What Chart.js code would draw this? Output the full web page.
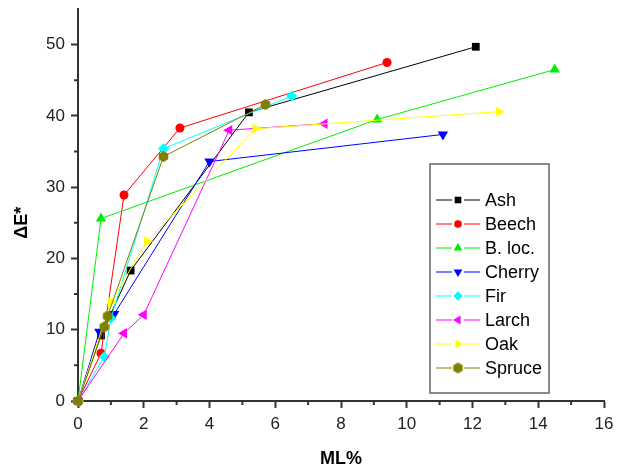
<!DOCTYPE html>
<html>
<head>
<meta charset="utf-8">
<script src="https://cdn.jsdelivr.net/npm/chart.js@4.4.0/dist/chart.umd.min.js"></script>
<style>
  html, body { margin: 0; padding: 0; background: #fff; }
</style>
</head>
<body>
<canvas id="c" width="618" height="473"></canvas>
<script>
// ML% (x) and ΔE* (y) for each wood species
const mlAsh = [0, 0.7, 1.6, 5.2, 12.1];
const deAsh = [0, 9.2, 18.3, 40.5, 49.7];
const mlBeech = [0, 0.7, 1.4, 3.1, 9.4];
const deBeech = [0, 6.7, 28.9, 38.3, 47.5];
const mlBloc = [0, 0.7, 9.1, 14.5];
const deBloc = [0, 25.6, 39.5, 46.5];
const mlCherry = [0, 0.65, 1.1, 4.0, 11.1];
const deCherry = [0, 9.7, 12.2, 33.6, 37.4];
const mlFir = [0, 0.8, 1.0, 2.6, 6.5];
const deFir = [0, 6.2, 11.6, 35.4, 42.8];
const mlLarch = [0, 1.4, 2.0, 4.6, 7.5];
const deLarch = [0, 9.5, 12.1, 38.0, 38.9];
const mlOak = [0, 1.0, 2.1, 5.4, 12.8];
const deOak = [0, 13.9, 22.4, 38.2, 40.6];
const mlSpruce = [0, 0.8, 0.9, 2.6, 5.7];
const deSpruce = [0, 10.4, 11.9, 34.3, 41.6];

const xTicks = [0, 2, 4, 6, 8, 10, 12, 14, 16];
const yTicks = [0, 10, 20, 30, 40, 50];

// little hexagon marker for spruce
function hexagon(color, r) {
    const cv = document.createElement('canvas');
    cv.width = cv.height = Math.ceil(r * 2 + 2);
    const g = cv.getContext('2d');
    const c = cv.width / 2;
    g.beginPath();
    for (let i = 0; i < 6; i++) {
        const a = Math.PI / 6 + i * Math.PI / 3;
        g.lineTo(c + r * Math.cos(a), c + r * Math.sin(a));
    }
    g.closePath();
    g.fillStyle = color;
    g.fill();
    return cv;
}
const hexOlive = hexagon('#808000', 5.5);

function pts(xs, ys) {
    return xs.map((x, i) => ({ x: x, y: ys[i] }));
}

function series(label, xs, ys, color, style, rot, r) {
    return {
        label: label,
        data: pts(xs, ys),
        borderColor: color,
        backgroundColor: color,
        borderWidth: 1,
        pointStyle: style,
        rotation: rot,
        pointRadius: r,
        pointBorderWidth: 0,
        pointBackgroundColor: color,
        pointBorderColor: color,
        showLine: true,
        clip: false
    };
}

const datasets = [
    series('Ash', mlAsh, deAsh, '#000000', 'rect', 0, 5.5),
    series('Beech', mlBeech, deBeech, '#ff0000', 'circle', 0, 4.5),
    series('B. loc.', mlBloc, deBloc, '#00ee00', 'triangle', 0, 6),
    series('Cherry', mlCherry, deCherry, '#0000ff', 'triangle', 180, 6),
    series('Fir', mlFir, deFir, '#00ffff', 'rectRot', 0, 5.5),
    series('Larch', mlLarch, deLarch, '#ff00ff', 'triangle', -90, 6),
    series('Oak', mlOak, deOak, '#ffff00', 'triangle', 90, 6),
    series('Spruce', mlSpruce, deSpruce, '#808000', hexOlive, 0, 5.5)
];
// later series sit on top, like the original plot
datasets.forEach((ds, i) => { ds.order = datasets.length - 1 - i; });

const axisColor = '#333';

// minor ticks between the labelled ones
const minorTicks = {
    id: 'minorTicks',
    afterDraw(chart) {
        const ctx = chart.ctx;
        const xs = chart.scales.x, ys = chart.scales.y;
        ctx.save();
        ctx.strokeStyle = axisColor;
        ctx.lineWidth = 2;
        ctx.beginPath();
        for (let v = 1; v < 16; v += 2) {
            const px = xs.getPixelForValue(v);
            ctx.moveTo(px, ys.bottom);
            ctx.lineTo(px, ys.bottom + 4);
        }
        for (let v = 5; v < 55; v += 10) {
            const py = ys.getPixelForValue(v);
            ctx.moveTo(xs.left, py);
            ctx.lineTo(xs.left - 4, py);
        }
        ctx.stroke();
        ctx.restore();
    }
};

// y axis title, centred on the 0..50 span
const yTitle = {
    id: 'yTitle',
    afterDraw(chart) {
        const ctx = chart.ctx;
        const ys = chart.scales.y;
        const cy = (ys.getPixelForValue(0) + ys.getPixelForValue(50)) / 2;
        ctx.save();
        ctx.translate(22, cy);
        ctx.rotate(-Math.PI / 2);
        ctx.fillStyle = '#000';
        ctx.font = 'bold 18px "Liberation Sans", Arial, sans-serif';
        ctx.textAlign = 'center';
        ctx.textBaseline = 'middle';
        ctx.fillText('ΔE*', 0, 0);
        ctx.restore();
    }
};

// boxed legend with line + marker samples
const boxLegend = {
    id: 'boxLegend',
    afterDraw(chart) {
        const ctx = chart.ctx;
        const left = 430, top = 164, right = 549, bottom = 393;
        ctx.save();
        ctx.strokeStyle = '#666';
        ctx.lineWidth = 1.5;
        ctx.strokeRect(left, top, right - left, bottom - top);
        ctx.font = '18px "Liberation Sans", Arial, sans-serif';
        ctx.textBaseline = 'middle';
        ctx.textAlign = 'left';
        chart.data.datasets.forEach((ds, i) => {
            const y = 200 + i * 24;
            ctx.strokeStyle = ds.borderColor;
            ctx.lineWidth = 1;
            ctx.beginPath();
            ctx.moveTo(436, y);
            ctx.lineTo(452, y);
            ctx.moveTo(464, y);
            ctx.lineTo(480, y);
            ctx.stroke();
            ctx.fillStyle = ds.pointBackgroundColor;
            Chart.helpers.drawPoint(ctx, {
                pointStyle: ds.pointStyle,
                rotation: ds.rotation,
                radius: ds.pointRadius * 0.85,
                borderWidth: 0
            }, 458, y);
            ctx.fillStyle = '#000';
            ctx.fillText(ds.label, 485, y + 1);
        });
        ctx.restore();
    }
};

new Chart(document.getElementById('c'), {
    type: 'scatter',
    data: { datasets: datasets },
    plugins: [minorTicks, yTitle, boxLegend],
    options: {
        responsive: false,
        animation: false,
        devicePixelRatio: 1,
        layout: { padding: { top: 9, right: 14, left: 0, bottom: 0 } },
        plugins: {
            legend: { display: false },
            tooltip: { enabled: false }
        },
        scales: {
            x: {
                type: 'linear',
                min: 0,
                max: 16,
                afterBuildTicks: s => { s.ticks = xTicks.map(v => ({ value: v })); },
                afterFit: s => { s.height = 72; s.paddingLeft = 0; s.paddingRight = 0; },
                border: { display: true, color: axisColor, width: 2 },
                grid: { drawOnChartArea: false, drawTicks: true, tickLength: 7, tickColor: axisColor, tickWidth: 2 },
                ticks: {
                    color: '#222',
                    padding: 6,
                    maxRotation: 0,
                    font: { family: '"Liberation Sans", Arial, sans-serif', size: 17 }
                },
                title: {
                    display: true,
                    text: 'ML%',
                    color: '#000',
                    padding: { top: 0, bottom: 3 },
                    font: { family: '"Liberation Sans", Arial, sans-serif', size: 18, weight: 'bold' }
                }
            },
            y: {
                type: 'linear',
                min: 0,
                max: 55,
                afterBuildTicks: s => { s.ticks = yTicks.map(v => ({ value: v })); },
                afterFit: s => { s.width = 78; s.paddingTop = 0; s.paddingBottom = 0; },
                border: { display: true, color: axisColor, width: 2 },
                grid: { drawOnChartArea: false, drawTicks: true, tickLength: 7, tickColor: axisColor, tickWidth: 2 },
                ticks: {
                    color: '#222',
                    padding: 6,
                    font: { family: '"Liberation Sans", Arial, sans-serif', size: 17 }
                }
            }
        }
    }
});
</script>
</body>
</html>
